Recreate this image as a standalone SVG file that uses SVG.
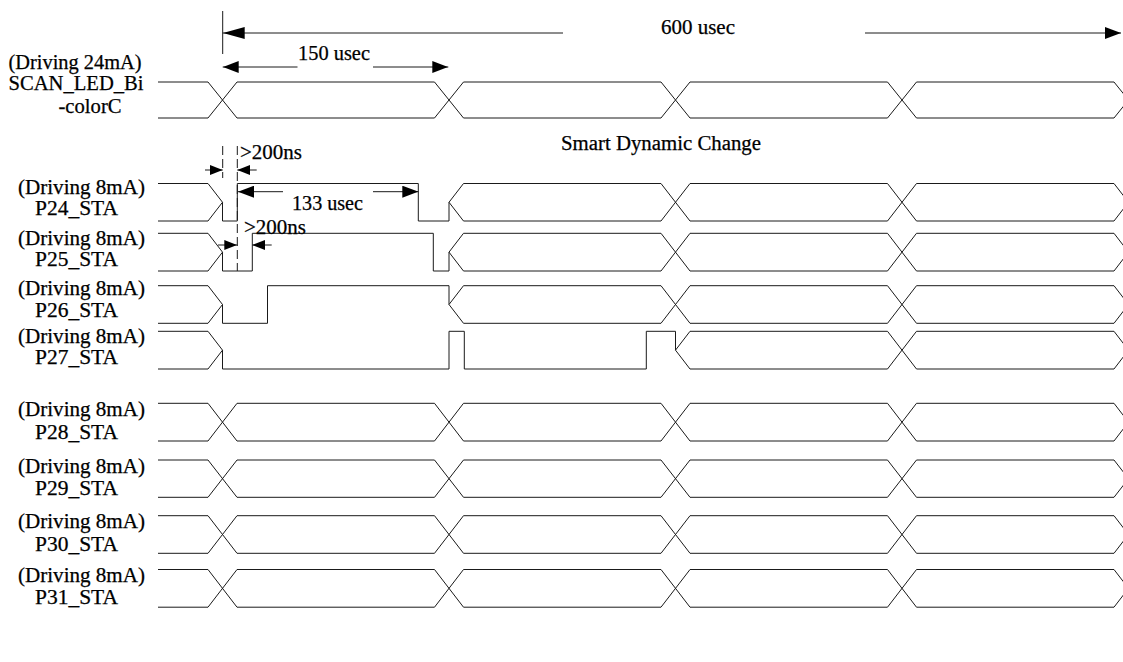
<svg xmlns="http://www.w3.org/2000/svg" width="1123" height="662" viewBox="0 0 1123 662">
<style>
.w{fill:none;stroke:#1a1a1a;stroke-width:1}
.a{fill:none;stroke:#1a1a1a;stroke-width:1}
.d{fill:none;stroke:#1a1a1a;stroke-width:1;stroke-dasharray:9 4}
.t{font-family:"Liberation Serif","Times New Roman",serif;font-size:20px;fill:#000;stroke:#000;stroke-width:0.25;text-anchor:middle}
</style>
<defs>
<marker id="arrL" markerUnits="userSpaceOnUse" markerWidth="22" markerHeight="12" refX="22" refY="6" orient="auto-start-reverse"><path d="M0,0 L22,6 L0,12 z" fill="#000"/></marker>
<marker id="arrM" markerUnits="userSpaceOnUse" markerWidth="16" markerHeight="12" refX="16" refY="6" orient="auto-start-reverse"><path d="M0,0 L16,6 L0,12 z" fill="#000"/></marker>
<marker id="arrS" markerUnits="userSpaceOnUse" markerWidth="13" markerHeight="10" refX="13" refY="5" orient="auto-start-reverse"><path d="M0,0 L13,5 L0,10 z" fill="#000"/></marker>
</defs>
<rect width="1123" height="662" fill="#fff"/>

<g id="scan">
<text class="t" x="75" y="69" textLength="133" lengthAdjust="spacingAndGlyphs">(Driving 24mA)</text>
<text class="t" x="76" y="90" textLength="135" lengthAdjust="spacingAndGlyphs">SCAN_LED_Bi</text>
<text class="t" x="90" y="113" textLength="63" lengthAdjust="spacingAndGlyphs">-colorC</text>
<path class="w" d="M158,82 H208 L237,118 H434.5 L463.5,82 H661 L690,118 H887.5 L916.5,82 H1114 L1143,118 M158,118 H208 L237,82 H434.5 L463.5,118 H661 L690,82 H887.5 L916.5,118 H1114 L1143,82"/>
</g>

<g id="p24">
<text class="t" x="81.5" y="194" textLength="127" lengthAdjust="spacingAndGlyphs">(Driving 8mA)</text>
<text class="t" x="76.5" y="215" textLength="83" lengthAdjust="spacingAndGlyphs">P24_STA</text>
<path class="w" d="M158,183.5 H208 L222.5,202.25 V221 H237.3 V183.5 H418.3 V221 H449 V202.25 L463.5,183.5 H661 L690,221 H887.5 L916.5,183.5 H1114 L1143,221 M158,221 H208 L222.5,202.25 M449,202.25 L463.5,221 H661 L690,183.5 H887.5 L916.5,221 H1114 L1143,183.5"/>
</g>

<g id="p25">
<text class="t" x="81.5" y="244.5" textLength="127" lengthAdjust="spacingAndGlyphs">(Driving 8mA)</text>
<text class="t" x="76.5" y="266" textLength="83" lengthAdjust="spacingAndGlyphs">P25_STA</text>
<path class="w" d="M158,233.3 H208 L222.5,252.15 V271 H252.3 V233.3 H433.3 V271 H449 V252.15 L463.5,233.3 H661 L690,271 H887.5 L916.5,233.3 H1114 L1143,271 M158,271 H208 L222.5,252.15 M449,252.15 L463.5,271 H661 L690,233.3 H887.5 L916.5,271 H1114 L1143,233.3"/>
</g>

<g id="p26">
<text class="t" x="81.5" y="295" textLength="127" lengthAdjust="spacingAndGlyphs">(Driving 8mA)</text>
<text class="t" x="76.5" y="317" textLength="83" lengthAdjust="spacingAndGlyphs">P26_STA</text>
<path class="w" d="M158,285.7 H208 L222.5,304.5 V323.3 H267.5 V285.7 H449 V304.5 L463.5,285.7 H661 L690,323.3 H887.5 L916.5,285.7 H1114 L1143,323.3 M158,323.3 H208 L222.5,304.5 M449,304.5 L463.5,323.3 H661 L690,285.7 H887.5 L916.5,323.3 H1114 L1143,285.7"/>
</g>

<g id="p27">
<text class="t" x="81.5" y="342.5" textLength="127" lengthAdjust="spacingAndGlyphs">(Driving 8mA)</text>
<text class="t" x="76.5" y="364" textLength="83" lengthAdjust="spacingAndGlyphs">P27_STA</text>
<path class="w" d="M158,331.3 H208 L222.5,350.15 V369 H449 V331.3 H464.3 V369 H646.3 V331.3 H675.5 V350.15 L690,331.3 H887.5 L916.5,369 H1114 L1143,331.3 M158,369 H208 L222.5,350.15 M675.5,350.15 L690,369 H887.5 L916.5,331.3 H1114 L1143,369"/>
</g>

<g id="p28">
<text class="t" x="81.5" y="416" textLength="127" lengthAdjust="spacingAndGlyphs">(Driving 8mA)</text>
<text class="t" x="76.5" y="439" textLength="83" lengthAdjust="spacingAndGlyphs">P28_STA</text>
<path class="w" d="M158,403.3 H208 L237,441 H434.5 L463.5,403.3 H661 L690,441 H887.5 L916.5,403.3 H1114 L1143,441 M158,441 H208 L237,403.3 H434.5 L463.5,441 H661 L690,403.3 H887.5 L916.5,441 H1114 L1143,403.3"/>
</g>

<g id="p29">
<text class="t" x="81.5" y="472.5" textLength="127" lengthAdjust="spacingAndGlyphs">(Driving 8mA)</text>
<text class="t" x="76.5" y="495" textLength="83" lengthAdjust="spacingAndGlyphs">P29_STA</text>
<path class="w" d="M158,460 H208 L237,497.3 H434.5 L463.5,460 H661 L690,497.3 H887.5 L916.5,460 H1114 L1143,497.3 M158,497.3 H208 L237,460 H434.5 L463.5,497.3 H661 L690,460 H887.5 L916.5,497.3 H1114 L1143,460"/>
</g>

<g id="p30">
<text class="t" x="81.5" y="528" textLength="127" lengthAdjust="spacingAndGlyphs">(Driving 8mA)</text>
<text class="t" x="76.5" y="550.5" textLength="83" lengthAdjust="spacingAndGlyphs">P30_STA</text>
<path class="w" d="M158,515.7 H208 L237,553.3 H434.5 L463.5,515.7 H661 L690,553.3 H887.5 L916.5,515.7 H1114 L1143,553.3 M158,553.3 H208 L237,515.7 H434.5 L463.5,553.3 H661 L690,515.7 H887.5 L916.5,553.3 H1114 L1143,515.7"/>
</g>

<g id="p31">
<text class="t" x="81.5" y="582" textLength="127" lengthAdjust="spacingAndGlyphs">(Driving 8mA)</text>
<text class="t" x="76.5" y="604" textLength="83" lengthAdjust="spacingAndGlyphs">P31_STA</text>
<path class="w" d="M158,569.5 H208 L237,607.2 H434.5 L463.5,569.5 H661 L690,607.2 H887.5 L916.5,569.5 H1114 L1143,607.2 M158,607.2 H208 L237,569.5 H434.5 L463.5,607.2 H661 L690,569.5 H887.5 L916.5,607.2 H1114 L1143,569.5"/>
</g>

<g id="note">
<text class="t" x="661" y="150" textLength="200" lengthAdjust="spacingAndGlyphs">Smart Dynamic Change</text>
</g>

<g id="connectors">
<line class="a" x1="222.7" y1="11" x2="222.7" y2="54"/>
<line class="a" x1="222.7" y1="33" x2="563" y2="33" marker-start="url(#arrL)"/>
<line class="a" x1="865" y1="33" x2="1121" y2="33" marker-end="url(#arrM)"/>
<text class="t" x="698" y="34" textLength="74" lengthAdjust="spacingAndGlyphs">600 usec</text>

<line class="a" x1="222.7" y1="67" x2="297.5" y2="67" marker-start="url(#arrM)"/>
<line class="a" x1="373" y1="67" x2="448.3" y2="67" marker-end="url(#arrM)"/>
<text class="t" x="334" y="60" textLength="72" lengthAdjust="spacingAndGlyphs">150 usec</text>

<line class="d" x1="222.7" y1="146" x2="222.7" y2="178"/>
<line class="d" x1="237.3" y1="146" x2="237.3" y2="271"/>

<line class="a" x1="205" y1="170" x2="222.7" y2="170" marker-end="url(#arrS)"/>
<line class="a" x1="256.7" y1="170" x2="237.3" y2="170" marker-end="url(#arrS)"/>
<text class="t" x="271" y="159" textLength="62" lengthAdjust="spacingAndGlyphs">&gt;200ns</text>

<line class="a" x1="238" y1="191.7" x2="283" y2="191.7" marker-start="url(#arrM)"/>
<line class="a" x1="373" y1="191.7" x2="418.3" y2="191.7" marker-end="url(#arrM)"/>
<text class="t" x="327.5" y="210" textLength="71" lengthAdjust="spacingAndGlyphs">133 usec</text>

<line class="a" x1="218" y1="245" x2="237.3" y2="245" marker-end="url(#arrS)"/>
<line class="a" x1="271.7" y1="245" x2="252.3" y2="245" marker-end="url(#arrS)"/>
<text class="t" x="275" y="234" textLength="62" lengthAdjust="spacingAndGlyphs">&gt;200ns</text>
</g>
</svg>
